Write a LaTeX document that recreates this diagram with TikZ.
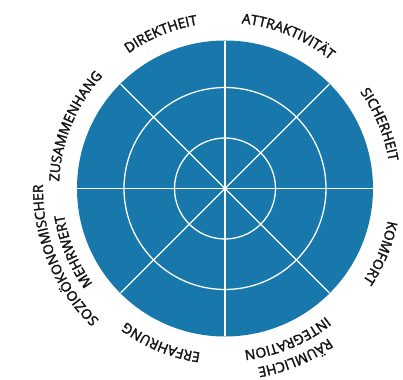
\documentclass[tikz,border=0pt]{standalone}
\usepackage{fontspec}
\newfontfamily\lblfont{Open Sans}[FakeBold=2.3]
\usetikzlibrary{decorations.text}
\definecolor{diskblue}{RGB}{24,120,171}
\definecolor{lblcol}{RGB}{20,20,20}
\newcommand\lblfmt{\lblfont\fontsize{13.8}{15}\selectfont}
\tikzset{
  ring/.style={draw=white, line width=1.3pt},
  arctext/.style={decorate, decoration={text along path, text align=center,
    text color=lblcol, text format delimiters={|}{|}, text={|\lblfmt|#1}}}
}
\newcommand\arclabel[3]{\path[arctext={#3}] (#1+60:#2) arc[start angle=#1+60, end angle=#1-60, radius=#2];}
\begin{document}
\begin{tikzpicture}[x=1pt,y=1pt]
\useasboundingbox (-225,-190.5) rectangle (178,188.5);
\coordinate (O) at (0,0);
\fill[diskblue] (O) circle[radius=148];
\foreach \r in {50.5,101}{\draw[ring] (O) circle[radius=\r];}
\foreach \a in {0,45,90,135}{\draw[ring] (\a:147.5) -- (\a+180:147.5);}
\arclabel{67.5}{166}{ATTRAKTIVITÄT}
\arclabel{112.5}{166}{DIREKTHEIT}
\arclabel{157.5}{166}{ZUSAMMENHANG}
\arclabel{202.5}{163}{MEHRWERT}
\arclabel{202.5}{182}{SOZIOÖKONOMISCHER}
\arclabel{247.5}{166}{ERFAHRUNG}
\arclabel{292.5}{163}{INTEGRATION}
\arclabel{292.5}{182}{RÄUMLICHE}
\arclabel{337.5}{166}{KOMFORT}
\arclabel{22.5}{166}{SICHERHEIT}
\end{tikzpicture}
\end{document}
